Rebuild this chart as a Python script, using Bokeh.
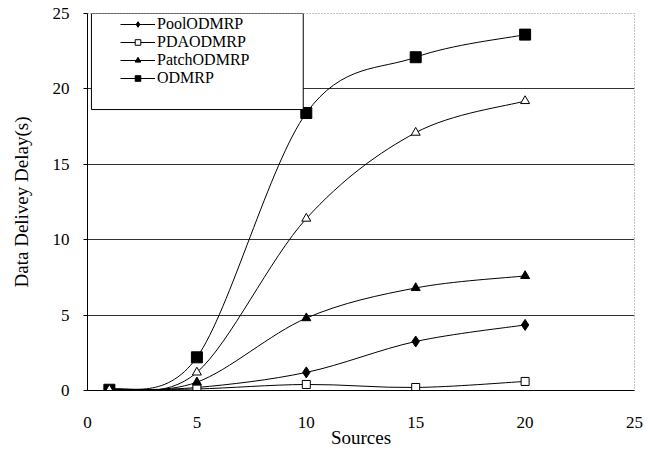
import numpy as np
from bokeh.plotting import figure
from bokeh.models import Legend, LegendItem, BoxAnnotation, FixedTicker, Range1d
from bokeh.embed import file_html
from bokeh.resources import INLINE

# ---- data ----
sources = [1, 5, 10, 15, 20]
pool_odmrp = [0.05, 0.2, 1.2, 3.25, 4.35]
pda_odmrp = [0.05, 0.1, 0.4, 0.2, 0.6]
patch_odmrp = [0.05, 0.55, 4.8, 6.8, 7.6]
odmrp = [0.05, 2.2, 18.4, 22.1, 23.6]
unlabeled_series = [0.05, 1.2, 11.4, 17.1, 19.2]  # open triangles, no legend entry
x_ticks = [0, 5, 10, 15, 20, 25]
y_ticks = [0, 5, 10, 15, 20, 25]
grid_values = [5, 10, 15, 20]

SERIF = "Liberation Serif"


def smooth_segments(xs, ys):
    """Catmull-Rom style cubic Bezier segments through the data points."""
    x = np.asarray(xs, float)
    y = np.asarray(ys, float)
    xp = np.concatenate([[x[0]], x, [x[-1]]])
    yp = np.concatenate([[y[0]], y, [y[-1]]])
    i = np.arange(len(x) - 1)
    return dict(
        x0=x[:-1], y0=y[:-1], x1=x[1:], y1=y[1:],
        cx0=xp[i + 1] + (xp[i + 2] - xp[i]) / 6.0,
        cy0=yp[i + 1] + (yp[i + 2] - yp[i]) / 6.0,
        cx1=xp[i + 2] - (xp[i + 3] - xp[i + 1]) / 6.0,
        cy1=yp[i + 2] - (yp[i + 3] - yp[i + 1]) / 6.0,
    )


p = figure(width=653, height=454, x_range=Range1d(0, 25), y_range=Range1d(0, 25),
           output_backend="svg", toolbar_location=None,
           min_border_left=87, min_border_right=19, min_border_top=13, min_border_bottom=64)

p.background_fill_color = "white"
p.border_fill_color = "white"
p.outline_line_color = "#888888"
p.outline_line_dash = "1 2"

p.xgrid.visible = False
p.ygrid.ticker = FixedTicker(ticks=grid_values)
p.ygrid.grid_line_color = "#333333"
p.ygrid.grid_line_width = 1

p.xaxis.ticker = FixedTicker(ticks=x_ticks)
p.yaxis.ticker = FixedTicker(ticks=y_ticks)
for ax in (p.xaxis, p.yaxis):
    ax.axis_line_color = "black"
    ax.axis_line_width = 1
    ax.minor_tick_line_color = None
    ax.major_tick_line_color = "black"
    ax.major_label_text_font = SERIF
    ax.major_label_text_font_size = "17px"
    ax.major_label_text_color = "black"
    ax.axis_label_text_font = SERIF
    ax.axis_label_text_font_style = "normal"
    ax.axis_label_text_color = "black"
    ax.axis_label_text_font_size = "19px"

p.xaxis.major_tick_out = 0
p.xaxis.major_tick_in = 0
p.xaxis.major_label_standoff = 26
p.xaxis.axis_label = "Sources"
p.xaxis.axis_label_standoff = -4

p.yaxis.major_tick_out = 4
p.yaxis.major_tick_in = 0
p.yaxis.major_label_standoff = 14
p.yaxis.axis_label = "Data Delivey Delay(s)"
p.yaxis.axis_label_standoff = 18

series = [
    ("PoolODMRP", pool_odmrp, "diamond", 11, "black"),
    ("PDAODMRP", pda_odmrp, "square", 8, "white"),
    ("PatchODMRP", patch_odmrp, "triangle", 9, "black"),
    ("ODMRP", odmrp, "square", 11, "black"),
    (None, unlabeled_series, "triangle", 9, "white"),
]

items = []
for name, vals, marker, size, fill in series:
    seg = smooth_segments(sources, vals)
    r_line = p.bezier(line_color="black", line_width=1, **seg)
    r_pts = p.scatter(sources, vals, marker=marker, size=size, fill_color=fill,
                      line_color="black", line_width=1)
    if name is not None:
        items.append(LegendItem(label=name, renderers=[r_line, r_pts]))

box = BoxAnnotation(left=0.18, right=9.86, bottom=18.63, top=25,
                    fill_color="white", fill_alpha=1.0,
                    line_color="black", line_alpha=1.0, line_width=1)
p.add_layout(box)

legend = Legend(items=items, location=(33, 303))
legend.label_text_font = SERIF
legend.label_text_font_size = "16px"
legend.label_text_color = "black"
legend.glyph_width = 35
legend.glyph_height = 14
legend.label_height = 14
legend.label_standoff = 2
legend.spacing = 0
legend.padding = 0
legend.margin = 0
legend.border_line_color = None
legend.background_fill_alpha = 0
p.add_layout(legend, "center")

open("out.html", "w").write(file_html(p, INLINE))
